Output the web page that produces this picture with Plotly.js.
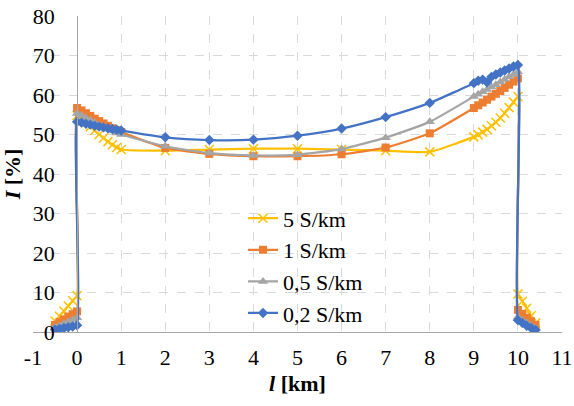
<!DOCTYPE html>
<html>
<head>
<meta charset="utf-8">
<script src="https://cdn.plot.ly/plotly-3.0.1.min.js"></script>
<style>
html,body{margin:0;padding:0;background:#fff;}
#chart{width:574px;height:406px;}
</style>
</head>
<body>
<div id="chart"></div>
<script>
const distanceKm = [-0.5,-0.4,-0.3,-0.2,-0.1,0,
  0,0.1,0.2,0.3,0.4,0.5,0.6,0.7,0.8,0.9,1,
  2,3,4,5,6,7,8,
  9,9.1,9.2,9.3,9.4,9.5,9.6,9.7,9.8,9.9,10,
  10,10.1,10.2,10.3,10.4];

const series5 = [2.8,4.0,5.3,6.6,7.9,9.2,
  54.8,54.0,53.0,52.0,51.0,50.0,49.1,48.2,47.4,46.7,46.2,
  45.9,46.2,46.4,46.4,46.2,45.9,45.6,
  49.4,49.9,50.6,51.3,52.2,53.1,54.2,55.4,56.8,58.2,59.6,
  9.6,7.8,6.0,4.1,2.3];

const series1 = [1.8,2.5,3.2,3.9,4.5,5.2,
  56.7,56.1,55.4,54.7,54.0,53.4,52.8,52.2,51.6,51.1,50.6,
  46.6,45.1,44.5,44.5,45.0,46.7,50.3,
  56.7,57.4,58.1,58.8,59.6,60.3,61.0,61.8,62.6,63.4,64.2,
  5.6,4.6,3.6,2.7,1.8];

const series05 = [1.2,1.6,2.1,2.6,3.1,3.6,
  55.3,54.8,54.2,53.6,53.0,52.4,51.9,51.4,50.9,50.4,50.0,
  47.0,45.3,44.7,44.9,46.3,49.2,53.2,
  59.6,60.2,60.8,61.4,62.0,62.6,63.3,63.9,64.6,65.2,65.9,
  3.8,3.0,2.3,1.6,1.0];

const series02 = [0.6,0.8,1.0,1.2,1.4,1.7,
  53.2,53.0,52.7,52.5,52.2,52.0,51.8,51.6,51.4,51.2,51.0,
  49.3,48.6,48.7,49.7,51.5,54.4,58.0,
  63.0,63.6,63.9,63.2,64.6,65.2,65.7,66.2,66.7,67.2,67.6,
  3.0,2.3,1.6,1.0,0.5];

const seriesNames = ['5 S/km','1 S/km','0,5 S/km','0,2 S/km'];
const xTicks = [-1,0,1,2,3,4,5,6,7,8,9,10,11];
const yTicks = [0,10,20,30,40,50,60,70,80];

const FONT = 'Liberation Serif, Times New Roman, serif';
const styles = [
  {color:'#FFC000', symbol:'x-thin-open', size:9, mline:{color:'#FFC000', width:1.5}},
  {color:'#ED7D31', symbol:'square', size:8, mline:{width:0}},
  {color:'#A5A5A5', symbol:'triangle-up', size:9, mline:{width:0}},
  {color:'#4472C4', symbol:'diamond', size:8, mline:{width:0}}
];
const allSeries = [series5, series1, series05, series02];

const traces = allSeries.map((ys, i) => ({
  type:'scatter', mode:'lines+markers', name:seriesNames[i],
  x:distanceKm, y:ys,
  line:{color:styles[i].color, width:2.25, shape:'spline', smoothing:0.5},
  marker:{symbol:styles[i].symbol, size:styles[i].size, color:styles[i].color, line:styles[i].mline}
}));

const layout = {
  width:574, height:406,
  margin:{l:33, r:12, t:16, b:74},
  paper_bgcolor:'#ffffff', plot_bgcolor:'#ffffff',
  font:{family:FONT, size:22, color:'#000'},
  showlegend:true,
  legend:{x:0.397, y:0.426, xanchor:'left', yanchor:'top', bgcolor:'rgba(0,0,0,0)',
    font:{family:FONT, size:22, color:'#000'}, tracegroupgap:0},
  xaxis:{range:[-1,11], tickvals:xTicks, ticktext:xTicks.map(String),
    showgrid:true, gridcolor:'#d9d9d9', griddash:'dash', gridwidth:1,
    zeroline:false, showline:true, linecolor:'#a6a6a6', linewidth:1,
    ticks:'outside', ticklen:6, tickcolor:'rgba(0,0,0,0)',
    tickfont:{family:FONT, size:22, color:'#000'},
    title:{text:'<b><i>l</i> [km]</b>', font:{family:FONT, size:22, color:'#000'}, standoff:6}},
  yaxis:{range:[0,80], tickvals:yTicks, ticktext:yTicks.map(String),
    anchor:'free', position:1/12,
    showgrid:true, gridcolor:'#d9d9d9', griddash:'dash', gridwidth:1,
    zeroline:false, showline:true, linecolor:'#a6a6a6', linewidth:1,
    ticks:'outside', ticklen:18, tickcolor:'rgba(0,0,0,0)',
    tickfont:{family:FONT, size:22, color:'#000'},
    title:{text:'<b><i>I</i> [%]</b>', font:{family:FONT, size:22, color:'#000'}, standoff:4}}
};

Plotly.newPlot('chart', traces, layout, {displayModeBar:false, staticPlot:true});
</script>
</body>
</html>
